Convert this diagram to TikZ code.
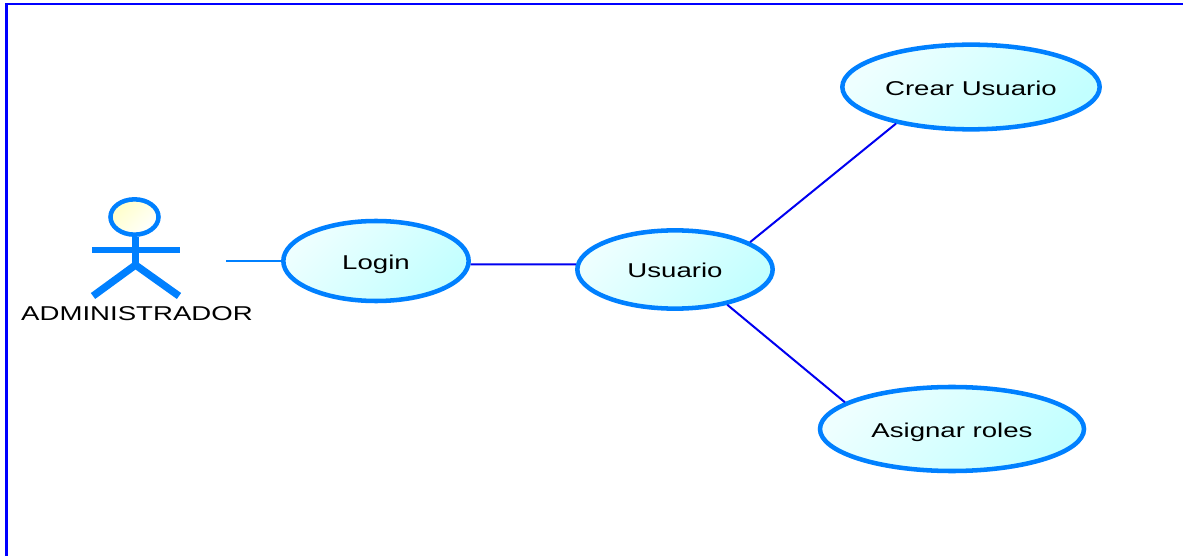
\documentclass[tikz,border=0pt]{standalone}
\usepackage{fontspec}
\setmainfont[FakeStretch=1.38]{Liberation Sans}
\usepackage{xcolor}
\usepackage{tikz}
\usetikzlibrary{shapes.geometric}
\definecolor{actorblue}{HTML}{0080FF}
\definecolor{linkblue}{HTML}{0000F0}
\definecolor{casepale}{HTML}{EEFFFF}
\definecolor{casecyan}{HTML}{C2FFFF}
\definecolor{headyellow}{HTML}{FFFFC8}
\tikzset{
	usecase/.style={ellipse, draw=actorblue, line width=3.4pt, inner sep=0, text height=12.4pt, text depth=0pt, left color=casepale, right color=casecyan, shading angle=45, font=\fontsize{15}{18}\selectfont},
	link/.style={linkblue, line width=1.5pt},
	limb/.style={actorblue, line width=5.5pt}
}
\begin{document}
\begin{tikzpicture}[x=0.75pt, y=-0.75pt]
	\useasboundingbox (0,0) rectangle (1183,556);
	% marco
	\draw[blue, line width=2.2pt] (6.5,556) -- (6.5,3);
	\draw[blue, line width=1.3pt] (5.5,3.7) -- (1183,3.7);
	% casos de uso
	\node[usecase, minimum width=139pt, minimum height=60pt] (login) at (376,261) {Login};
	\node[usecase, minimum width=146.5pt, minimum height=58.7pt] (usuario) at (675,269.5) {Usuario};
	\node[usecase, minimum width=193pt, minimum height=63.5pt] (crear) at (971,87) {Crear Usuario};
	\node[usecase, minimum width=198pt, minimum height=63pt] (asignar) at (952,429) {Asignar roles};
	% actor
	\node[ellipse, draw=actorblue, line width=3.4pt, inner sep=0, minimum width=36pt, minimum height=26.5pt, left color=headyellow, right color=white, shading angle=45] (head) at (134.5,217) {};
	\coordinate (hip) at (135.5,265);
	\coordinate (armleft) at (92,250);
	\coordinate (armright) at (180,250);
	\coordinate (footleft) at (93,296);
	\coordinate (footright) at (179,296);
	\draw[limb] (head.south -| hip) -- (hip);
	\draw[actorblue, line width=4.6pt] (armleft) -- (armright);
	\draw[limb] (footleft) -- (hip) -- (footright);
	\node[font=\fontsize{15}{18}\selectfont] (actorlbl) at (137,313.5) {ADMINISTRADOR};
	% conexiones
	\coordinate (actorend) at (226,261);
	\draw[actorblue, line width=1.1pt] (actorend) -- (login.west);
	\draw[link] (login.-2.6) -- (usuario.177.4);
	\draw[link] (usuario.20.8) -- (crear.206.5);
	\draw[link] (usuario.-34.5) -- (asignar.166);
\end{tikzpicture}
\end{document}
